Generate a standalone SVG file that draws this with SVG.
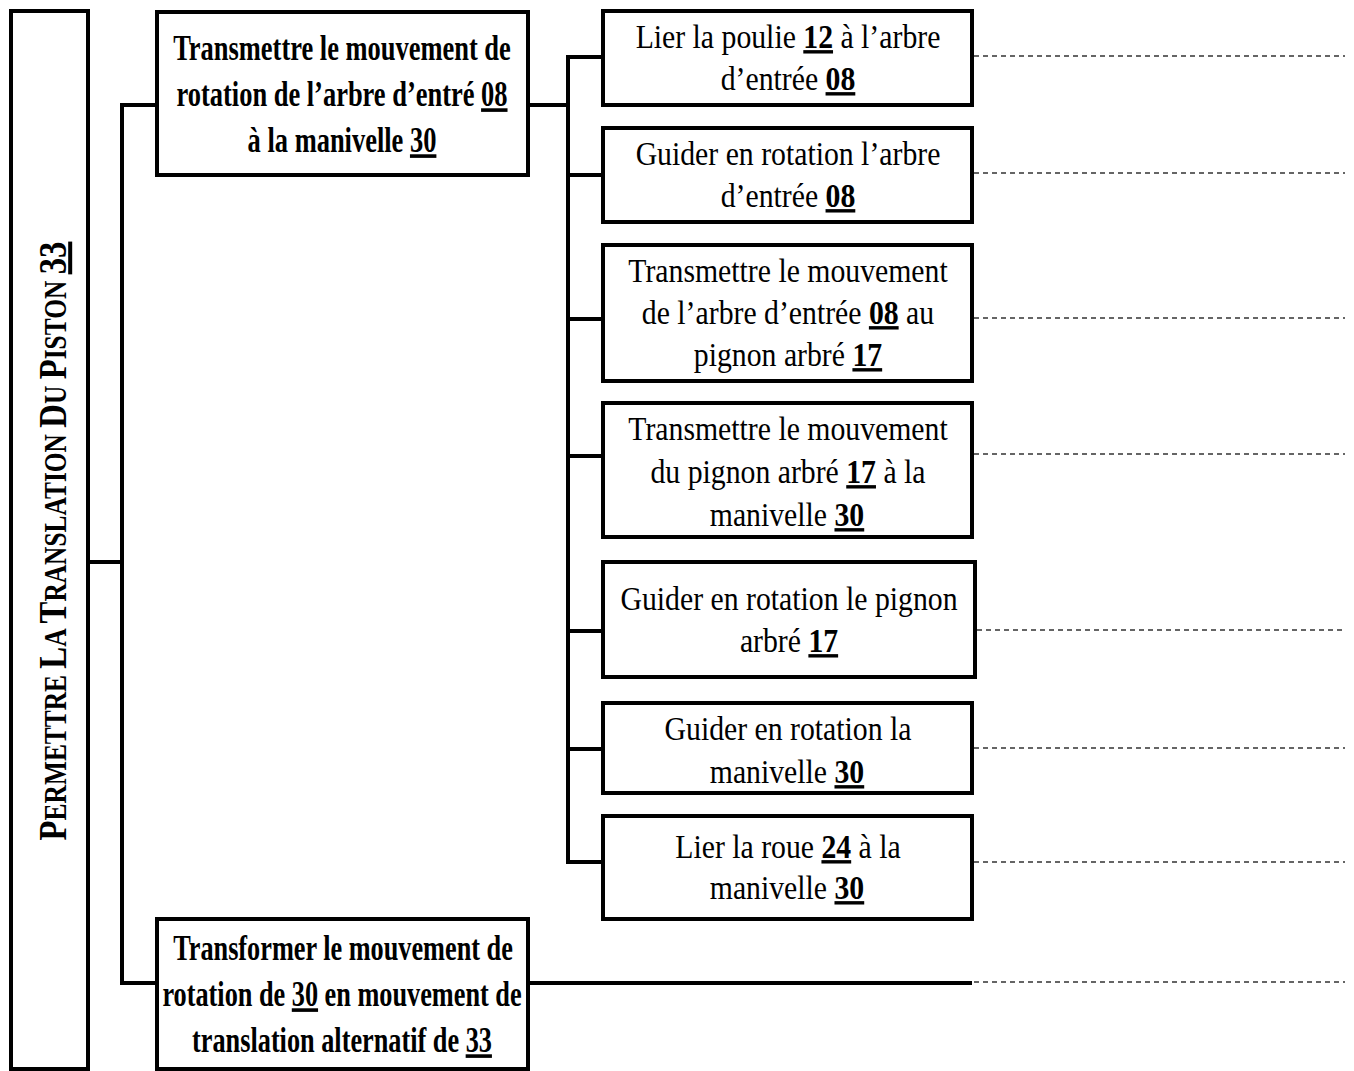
<svg xmlns="http://www.w3.org/2000/svg" width="1354" height="1071" viewBox="0 0 1354 1071">
<style>
.box{fill:#fff;stroke:#000;stroke-width:4}
.con{fill:none;stroke:#000;stroke-width:4}
.dash{fill:none;stroke:#333;stroke-width:1.3;stroke-dasharray:5 4}
text{font-family:"Liberation Serif","Times New Roman",serif;fill:#000;text-anchor:middle}
.r{font-size:34px}
.b{font-size:36px;font-weight:bold}
.n{font-weight:bold;text-decoration:underline}
.u{text-decoration:underline}
.v{font-weight:bold}
</style>
<rect width="1354" height="1071" fill="#fff"/>
<g id="connectors">
  <polyline class="con" points="88,562 122,562"/>
  <polyline class="con" points="157,105 122,105 122,983 157,983"/>
  <polyline class="con" points="528,105 568,105"/>
  <polyline class="con" points="603,57 568,57 568,862 603,862"/>
  <line class="con" x1="568" y1="175" x2="603" y2="175"/>
  <line class="con" x1="568" y1="319" x2="603" y2="319"/>
  <line class="con" x1="568" y1="456" x2="603" y2="456"/>
  <line class="con" x1="568" y1="631" x2="603" y2="631"/>
  <line class="con" x1="568" y1="749" x2="603" y2="749"/>
  <line class="con" x1="528" y1="983" x2="972" y2="983"/>
  <line class="dash" x1="974" y1="56" x2="1345" y2="56"/>
  <line class="dash" x1="974" y1="173" x2="1345" y2="173"/>
  <line class="dash" x1="974" y1="318" x2="1345" y2="318"/>
  <line class="dash" x1="974" y1="454" x2="1345" y2="454"/>
  <line class="dash" x1="977" y1="630" x2="1345" y2="630"/>
  <line class="dash" x1="974" y1="748" x2="1345" y2="748"/>
  <line class="dash" x1="974" y1="862" x2="1345" y2="862"/>
  <line class="dash" x1="974" y1="982" x2="1345" y2="982"/>
</g>
<g id="root">
  <rect class="box" x="11" y="11" width="77" height="1058"/>
  <text class="v" transform="translate(66,541) rotate(-90) scale(0.82,1)"><tspan font-size="40">P</tspan><tspan font-size="31">ERMETTRE </tspan><tspan font-size="40">L</tspan><tspan font-size="31">A </tspan><tspan font-size="40">T</tspan><tspan font-size="31">RANSLATION </tspan><tspan font-size="40">D</tspan><tspan font-size="31">U </tspan><tspan font-size="40">P</tspan><tspan font-size="31">ISTON </tspan><tspan font-size="40" class="u">33</tspan></text>
</g>
<g id="f1">
  <rect class="box" x="157" y="12" width="371" height="163"/>
  <text class="b" transform="translate(342,60) scale(0.735,1)">Transmettre le mouvement de</text>
  <text class="b" transform="translate(342,106) scale(0.735,1)">rotation de l’arbre d’entré <tspan class="u">08</tspan></text>
  <text class="b" transform="translate(342,152) scale(0.735,1)">à la manivelle <tspan class="u">30</tspan></text>
</g>
<g id="f2">
  <rect class="box" x="157" y="919" width="371" height="150"/>
  <text class="b" transform="translate(343,960) scale(0.73,1)">Transformer le mouvement de</text>
  <text class="b" transform="translate(342,1006) scale(0.73,1)">rotation de <tspan class="u">30</tspan> en mouvement de</text>
  <text class="b" transform="translate(342,1052) scale(0.73,1)">translation alternatif de <tspan class="u">33</tspan></text>
</g>
<g id="f11">
  <rect class="box" x="603" y="11" width="369" height="94"/>
  <text class="r" transform="translate(788,48) scale(0.875,1)">Lier la poulie <tspan class="n">12</tspan> à l’arbre</text>
  <text class="r" transform="translate(788,90) scale(0.875,1)">d’entrée <tspan class="n">08</tspan></text>
</g>
<g id="f12">
  <rect class="box" x="603" y="128" width="369" height="94"/>
  <text class="r" transform="translate(788,165) scale(0.875,1)">Guider en rotation l’arbre</text>
  <text class="r" transform="translate(788,207) scale(0.875,1)">d’entrée <tspan class="n">08</tspan></text>
</g>
<g id="f13">
  <rect class="box" x="603" y="245" width="369" height="136"/>
  <text class="r" transform="translate(788,282) scale(0.875,1)">Transmettre le mouvement</text>
  <text class="r" transform="translate(788,324) scale(0.875,1)">de l’arbre d’entrée <tspan class="n">08</tspan> au</text>
  <text class="r" transform="translate(788,366) scale(0.875,1)">pignon arbré <tspan class="n">17</tspan></text>
</g>
<g id="f14">
  <rect class="box" x="603" y="403" width="369" height="134"/>
  <text class="r" transform="translate(788,440) scale(0.875,1)">Transmettre le mouvement</text>
  <text class="r" transform="translate(788,483) scale(0.875,1)">du pignon arbré <tspan class="n">17</tspan> à la</text>
  <text class="r" transform="translate(787,526) scale(0.875,1)">manivelle <tspan class="n">30</tspan></text>
</g>
<g id="f15">
  <rect class="box" x="603" y="562" width="372" height="115"/>
  <text class="r" transform="translate(789,610) scale(0.875,1)">Guider en rotation le pignon</text>
  <text class="r" transform="translate(789,652) scale(0.875,1)">arbré <tspan class="n">17</tspan></text>
</g>
<g id="f16">
  <rect class="box" x="603" y="703" width="369" height="90"/>
  <text class="r" transform="translate(788,740) scale(0.875,1)">Guider en rotation la</text>
  <text class="r" transform="translate(787,783) scale(0.875,1)">manivelle <tspan class="n">30</tspan></text>
</g>
<g id="f17">
  <rect class="box" x="603" y="816" width="369" height="103"/>
  <text class="r" transform="translate(788,858) scale(0.875,1)">Lier la roue <tspan class="n">24</tspan> à la</text>
  <text class="r" transform="translate(787,899) scale(0.875,1)">manivelle <tspan class="n">30</tspan></text>
</g>
</svg>
